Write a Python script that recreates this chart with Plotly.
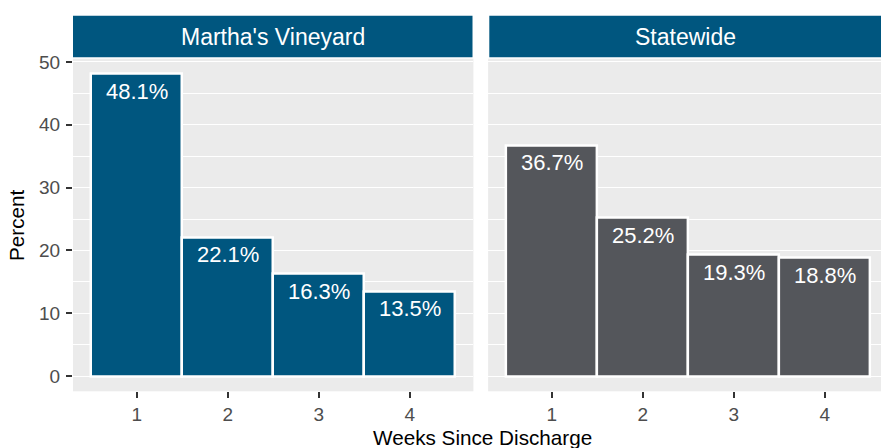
import plotly.graph_objects as go

weeks = [1, 2, 3, 4]
mv_values = [48.1, 22.1, 16.3, 13.5]
sw_values = [36.7, 25.2, 19.3, 18.8]
panels = ["Martha's Vineyard", "Statewide"]
y_ticks = [0, 10, 20, 30, 40, 50]

W, H = 881, 448
BLUE = "#00567F"
GRAY = "#54565B"
FONT = "Liberation Sans, Arial, sans-serif"

# pixel geometry
p1_x0, p1_x1 = 73.0, 473.4
p2_x0, p2_x1 = 488.1, 881.0
py0, py1 = 52.5, 390.4   # top, bottom
strip_y0, strip_y1 = 9.0, 51.0

px_per_unit = (p1_x1 - p1_x0) / 4.4
x2_max = 0.3 + (p2_x1 - p2_x0) / px_per_unit

ymax = max(mv_values + sw_values)
pad = 0.05 * ymax

def px(x):
    return x / W

def py(y):
    return 1 - y / H

fig = go.Figure()
for vals, color, xa, ya in [(mv_values, BLUE, "x", "y"), (sw_values, GRAY, "x2", "y2")]:
    fig.add_trace(go.Bar(
        x=weeks, y=vals, width=1.0, marker=dict(color=color, line=dict(color="white", width=2.5)),
        xaxis=xa, yaxis=ya, showlegend=False, hoverinfo="skip"))
    for w, v in zip(weeks, vals):
        fig.add_annotation(x=w, y=v, xref=xa, yref=ya, text=f"{v:.1f}%", showarrow=False,
                           yanchor="top", yshift=-3, font=dict(family=FONT, size=22, color="white"))

axis_common = dict(showline=False, zeroline=False, ticks="outside", ticklen=6, tickwidth=2,
                   tickcolor="#333333", tickfont=dict(family=FONT, size=19, color="#4D4D4D"))

fig.update_layout(
    width=W, height=H, autosize=False,
    margin=dict(l=0, r=0, t=0, b=0),
    paper_bgcolor="white", plot_bgcolor="#EBEBEB",
    bargap=0,
    xaxis=dict(domain=[px(p1_x0), px(p1_x1)], range=[0.3, 4.7], tickvals=weeks,
               showgrid=False, anchor="y", **axis_common),
    xaxis2=dict(domain=[px(p2_x0), px(p2_x1)], range=[0.3, x2_max], tickvals=weeks,
                showgrid=False, anchor="y2", **axis_common),
    yaxis=dict(domain=[py(py1), py(py0)], range=[-pad, ymax + pad], tickvals=y_ticks,
               showgrid=True, gridcolor="white", gridwidth=1.4, anchor="x",
               ticklabelstandoff=2,
               minor=dict(dtick=5, tick0=0, showgrid=True, gridcolor="white", gridwidth=0.7),
               **axis_common),
    yaxis2=dict(domain=[py(py1), py(py0)], range=[-pad, ymax + pad], tickvals=y_ticks,
                showgrid=True, gridcolor="white", gridwidth=1.4, anchor="x2",
                showticklabels=False, ticks="", showline=False, zeroline=False,
                minor=dict(dtick=5, tick0=0, showgrid=True, gridcolor="white", gridwidth=0.7)),
)

# facet strips
for name, x0, x1 in [(panels[0], p1_x0, 472.5), (panels[1], 489.3, p2_x1)]:
    fig.add_shape(type="rect", xref="paper", yref="paper", x0=px(x0), x1=px(x1),
                  y0=py(strip_y1), y1=py(strip_y0), fillcolor=BLUE, line=dict(width=0), layer="above")
    fig.add_annotation(xref="paper", yref="paper", x=px((x0 + x1) / 2), y=py((strip_y0 + strip_y1) / 2),
                       text=name, showarrow=False, xanchor="center", yanchor="middle",
                       font=dict(family=FONT, size=23, color="white"))

# axis titles
fig.add_annotation(xref="paper", yref="paper", x=px(17), y=py((py0 + py1) / 2), text="Percent",
                   textangle=-90, showarrow=False, xanchor="center", yanchor="middle",
                   font=dict(family=FONT, size=20.7, color="black"))
fig.add_annotation(xref="paper", yref="paper", x=px(482), y=py(437), text="Weeks Since Discharge",
                   showarrow=False, xanchor="center", yanchor="middle",
                   font=dict(family=FONT, size=20.7, color="black"))

fig.write_html(
    "out.html",
    config={"displayModeBar": False},
    post_script="document.body.style.margin='0';document.body.style.overflow='hidden';",
)
